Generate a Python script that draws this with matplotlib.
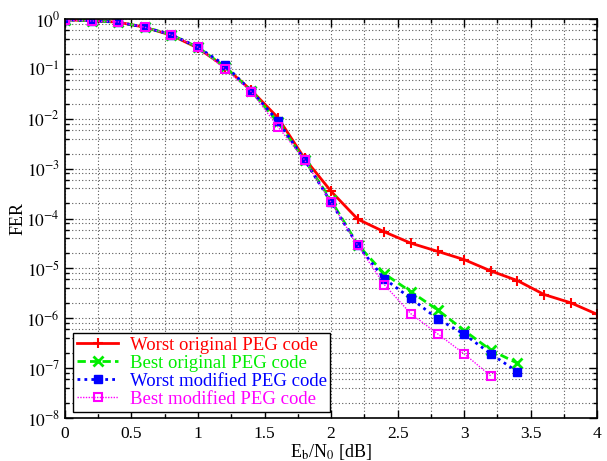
import numpy as np
import matplotlib
matplotlib.use("Agg")
import matplotlib.pyplot as plt
from matplotlib.ticker import FixedLocator, NullFormatter, FuncFormatter

plt.rcParams["font.family"] = ["Liberation Serif", "DejaVu Serif"]
plt.rcParams["mathtext.fontset"] = "stix"

# Eb/N0 [dB]
snr_worst_orig = [0.0, 0.2, 0.4, 0.6, 0.8, 1.0, 1.2, 1.4, 1.6, 1.8, 2.0, 2.2, 2.4,
                  2.6, 2.8, 3.0, 3.2, 3.4, 3.6, 3.8, 4.0]
fer_worst_orig = [0.96, 0.92, 0.86, 0.68, 0.47, 0.26, 0.11, 0.037, 0.0105, 0.0016,
                  3.5e-4, 9.7e-5, 5.4e-5, 3.2e-5, 2.2e-5, 1.5e-5, 8.9e-6, 5.7e-6,
                  3.0e-6, 2.05e-6, 1.2e-6]

snr_best = [0.0, 0.2, 0.4, 0.6, 0.8, 1.0, 1.2, 1.4, 1.6, 1.8, 2.0, 2.2, 2.4,
            2.6, 2.8, 3.0, 3.2, 3.4]
fer_best_orig = [0.96, 0.92, 0.86, 0.68, 0.48, 0.27, 0.11, 0.036, 0.0085, 0.0015,
                 2.3e-4, 3.0e-5, 7.8e-6, 3.4e-6, 1.48e-6, 5.7e-7, 2.3e-7, 1.26e-7]
fer_worst_mod = [0.96, 0.92, 0.86, 0.68, 0.48, 0.27, 0.12, 0.036, 0.009, 0.0015,
                 2.1e-4, 2.9e-5, 6.2e-6, 2.5e-6, 9.8e-7, 4.8e-7, 1.94e-7, 8.5e-8]

snr_best_mod = [0.0, 0.2, 0.4, 0.6, 0.8, 1.0, 1.2, 1.4, 1.6, 1.8, 2.0, 2.2, 2.4,
                2.6, 2.8, 3.0, 3.2]
fer_best_mod = [0.95, 0.91, 0.87, 0.68, 0.48, 0.27, 0.10, 0.035, 0.0069, 0.0015,
                2.1e-4, 2.9e-5, 4.7e-6, 1.23e-6, 4.9e-7, 1.94e-7, 7.0e-8]

x_major = [0, 0.5, 1, 1.5, 2, 2.5, 3, 3.5, 4]
x_minor = [0.25, 0.75, 1.25, 1.75, 2.25, 2.75, 3.25, 3.75]
y_exponents = list(range(-8, 1))
y_minor_subs = [2, 4, 6, 8]

fig = plt.figure(figsize=(6.07, 4.61), dpi=100)
ax = fig.add_axes([0.107, 0.093, 0.877, 0.866])

ax.semilogy(snr_worst_orig, fer_worst_orig, color="red", lw=2, ls="-",
            marker="+", ms=7, mew=1.5, label="Worst original PEG code")
ax.semilogy(snr_best, fer_best_orig, color="#00ee00", lw=2, ls=(0, (3, 1.5)),
            marker="x", ms=7, mew=2, label="Best original PEG code")
ax.semilogy(snr_best, fer_worst_mod, color="blue", lw=2, ls=(0, (1, 1.5)),
            marker="s", ms=6, mew=1, label="Worst modified PEG code")
ax.semilogy(snr_best_mod, fer_best_mod, color="magenta", lw=1, ls=(0, (1, 1)),
            marker="s", ms=6, mew=1.5, mfc="none", label="Best modified PEG code")

ax.set_xlim(0, 4)
ax.set_ylim(1e-8, 1)
ax.xaxis.set_major_locator(FixedLocator(x_major))
ax.xaxis.set_minor_locator(FixedLocator(x_minor))
ax.xaxis.set_major_formatter(FuncFormatter(lambda v, p: f"{v:g}"))
ax.yaxis.set_major_locator(FixedLocator([10.0 ** e for e in y_exponents]))
ax.yaxis.set_minor_locator(FixedLocator(
    [s * 10.0 ** e for e in y_exponents[:-1] for s in y_minor_subs]))
ax.yaxis.set_major_formatter(
    FuncFormatter(lambda v, p: r"$10^{%d}$" % round(np.log10(v))))
ax.yaxis.set_minor_formatter(NullFormatter())

ax.tick_params(which="both", direction="in", top=True, right=True, labelsize=12.5)
ax.tick_params(which="major", length=6, width=1)
ax.tick_params(which="minor", length=3, width=1)
ax.tick_params(axis="x", pad=6)
for s in ax.spines.values():
    s.set_linewidth(1.2)

ax.grid(True, which="both", color="0.35", ls=(0, (1, 2)), lw=0.8)

ax.set_xlabel(r"E$_\mathrm{b}$/N$_0$ [dB]", fontsize=13, labelpad=0)
ax.set_ylabel("FER", fontsize=13, labelpad=0)

leg = ax.legend(loc="lower left", bbox_to_anchor=(0.016, 0.016), fontsize=13.5,
                handlelength=2.2, numpoints=1, fancybox=False, framealpha=1,
                edgecolor="black", borderpad=0.2, labelspacing=0.05,
                handletextpad=0.6, borderaxespad=0)
leg.get_frame().set_linewidth(1)
for text, line in zip(leg.get_texts(), leg.get_lines()):
    text.set_color(line.get_color())

fig.savefig("out.png", dpi=100)
